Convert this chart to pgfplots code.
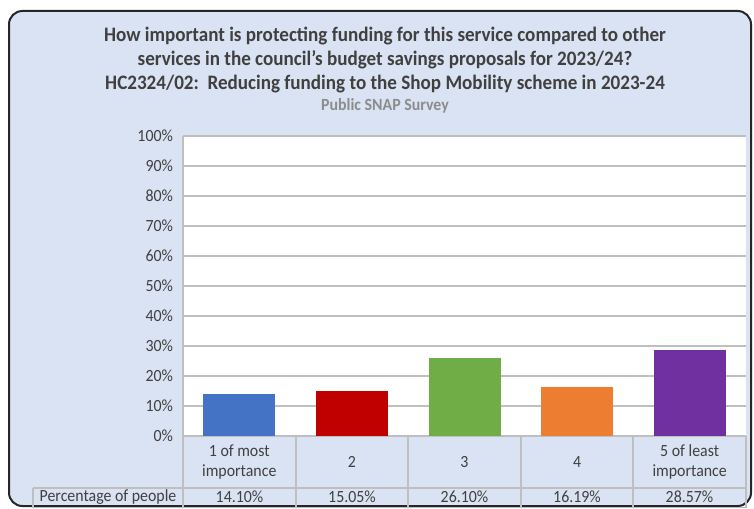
\documentclass[border=0pt]{standalone}
\usepackage{fontspec}
\setmainfont{Carlito}[FakeStretch=0.93]
\usepackage{pgfplots}
\pgfplotsset{compat=1.18}
\definecolor{bgblue}{HTML}{DAE3F3}
\definecolor{txt}{HTML}{404040}
\definecolor{gridc}{HTML}{BFBFBF}
\definecolor{c1}{HTML}{4472C4}
\definecolor{c2}{HTML}{C00000}
\definecolor{c3}{HTML}{70AD47}
\definecolor{c4}{HTML}{ED7D31}
\definecolor{c5}{HTML}{7030A0}
\begin{document}
\begin{tikzpicture}
% background box and titles, in pixel units of the reference
\begin{scope}[x=0.75pt,y=-0.75pt]
\useasboundingbox (0,0) rectangle (754,508);
\fill[white] (0,0) rectangle (754,508);
\filldraw[fill=bgblue, draw=black!85, line width=1.5pt, rounded corners=10pt] (9,11) rectangle (751,506);
\node[font=\bfseries\fontsize{15.4}{18}\selectfont, text=txt, align=center] at (385,60)
  {How important is protecting funding for this service compared to other\\
   services in the council’s budget savings proposals for 2023/24?\\
   HC2324/02:\ \ Reducing funding to the Shop Mobility scheme in 2023-24};
\node[font=\bfseries\fontsize{12.8}{14}\selectfont, text=black!45] at (385,106) {Public SNAP Survey};
\end{scope}
\begin{axis}[
  at={(137.25pt,-327pt)}, anchor=south west,
  scale only axis, width=422.25pt, height=225pt,
  xmin=-0.5, xmax=4.5, ymin=0, ymax=100,
  ytick={0,10,...,100},
  yticklabel={\pgfmathprintnumber{\tick}\%},
  xtick={0,...,4},
  xticklabels={{1 of most\\importance},2,3,4,{5 of least\\importance}},
  xticklabel style={align=center, anchor=center, yshift=-19.5pt, font=\fontsize{12.8}{15}\selectfont, text=txt},
  yticklabel style={font=\fontsize{12.8}{14}\selectfont, text=txt, xshift=-4pt},
  /pgf/number format/assume math mode=true,
  axis x line*=bottom, axis y line*=left,
  axis line style={gridc, line width=0.8pt},
  major tick length=0pt,
  ymajorgrids, grid style={gridc, line width=0.8pt},
  axis background/.style={fill=white},
  ybar, bar width=54pt, bar shift=0pt,
  clip=false,
]
\addplot[fill=c1, draw=none] coordinates {(0,14.10)};
\addplot[fill=c2, draw=none] coordinates {(1,15.05)};
\addplot[fill=c3, draw=none] coordinates {(2,26.10)};
\addplot[fill=c4, draw=none] coordinates {(3,16.19)};
\addplot[fill=c5, draw=none] coordinates {(4,28.57)};
\end{axis}
% data table below the plot
\begin{scope}[x=0.75pt,y=-0.75pt]
\draw[gridc, line width=0.8pt]
  (183,436) -- (183,508) (296,436) -- (296,508) (408,436) -- (408,508)
  (521,436) -- (521,508) (633,436) -- (633,508) (746,436) -- (746,508)
  (33,488) -- (746,488) (33,488) -- (33,508) (33,507.5) -- (746,507.5);
\begin{scope}[every node/.style={font=\fontsize{12.8}{14}\selectfont, text=txt}]
\node at (108,497) {Percentage of people};
\node at (239.5,497) {14.10\%};
\node at (352,497) {15.05\%};
\node at (464.5,497) {26.10\%};
\node at (577,497) {16.19\%};
\node at (689.5,497) {28.57\%};
\end{scope}
\end{scope}
\end{tikzpicture}
\end{document}
